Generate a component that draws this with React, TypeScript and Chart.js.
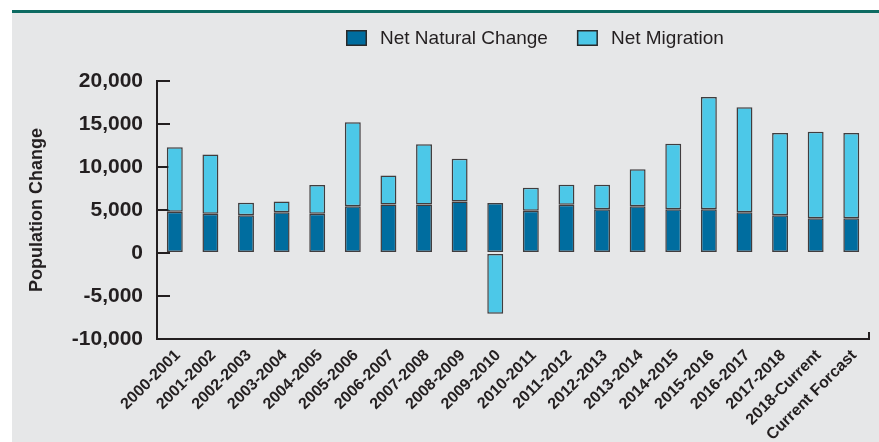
import React, { useEffect, useRef } from "react";
import { Chart, registerables } from "chart.js";

Chart.register(...registerables);

const categories = [
  "2000-2001", "2001-2002", "2002-2003", "2003-2004", "2004-2005",
  "2005-2006", "2006-2007", "2007-2008", "2008-2009", "2009-2010",
  "2010-2011", "2011-2012", "2012-2013", "2013-2014", "2014-2015",
  "2015-2016", "2016-2017", "2017-2018", "2018-Current", "Current Forcast",
];

const netNaturalChange = [
  4800, 4550, 4400, 4750, 4550, 5450, 5650, 5650, 6000, 5800,
  4900, 5600, 5100, 5450, 5100, 5100, 4750, 4400, 4050, 4050,
];

const netMigration = [
  7500, 6900, 1450, 1250, 3350, 9750, 3350, 7000, 4950, -7050,
  2700, 2350, 2850, 4300, 7600, 13050, 12200, 9550, 10050, 9900,
];

const seriesNames = ["Net Natural Change", "Net Migration"];
const seriesColors = ["#006d9f", "#4cc8e8"];

const yMin = -10000;
const yMax = 20000;
const yStep = 5000;
const yTitle = "Population Change";

const INK = "#231f20";
const FONT = "'Liberation Sans', Arial, sans-serif";

const legendPlugin = {
  id: "topLegend",
  afterDraw(chart: any) {
    const ctx = chart.ctx;
    ctx.save();
    ctx.font = `19px ${FONT}`;
    ctx.textBaseline = "middle";
    let x = 346;
    const y = 30;
    chart.data.datasets.forEach((ds: any) => {
      ctx.fillStyle = ds.backgroundColor;
      ctx.fillRect(x, y, 21, 16);
      ctx.strokeStyle = "#2a2a2a";
      ctx.lineWidth = 1.5;
      ctx.strokeRect(x + 0.75, y + 0.75, 19.5, 14.5);
      ctx.fillStyle = INK;
      ctx.fillText(ds.label, x + 34, y + 8.5);
      x += 34 + ctx.measureText(ds.label).width + 29;
    });
    ctx.restore();
  },
};

export default function App() {
  const canvasRef = useRef<HTMLCanvasElement | null>(null);

  useEffect(() => {
    if (!canvasRef.current) return;
    Chart.defaults.font.family = FONT;
    const chart = new Chart(canvasRef.current, {
      type: "bar",
      data: {
        labels: categories,
        datasets: [
          {
            label: seriesNames[0],
            data: netNaturalChange,
            backgroundColor: seriesColors[0],
            borderColor: "rgba(35,31,32,0.85)",
            borderWidth: 1.5,
            borderSkipped: false,
            barPercentage: 0.447,
            categoryPercentage: 1,
          },
          {
            label: seriesNames[1],
            data: netMigration,
            backgroundColor: seriesColors[1],
            borderColor: "rgba(35,31,32,0.85)",
            borderWidth: 1.5,
            borderSkipped: false,
            barPercentage: 0.447,
            categoryPercentage: 1,
          },
        ],
      },
      options: {
        responsive: false,
        devicePixelRatio: 1,
        animation: false,
        layout: { padding: { left: 0, top: 81, right: 6, bottom: 0 } },
        plugins: {
          legend: { display: false },
          tooltip: { enabled: false },
        },
        scales: {
          x: {
            stacked: true,
            ticks: {
              autoSkip: false,
              maxRotation: 45,
              minRotation: 45,
              padding: 14,
              labelOffset: 3,
              color: INK,
              font: { size: 16, weight: "bold" },
            },
            grid: {
              drawOnChartArea: false,
              tickLength: -7,
              lineWidth: 2,
              color: (c: any) => (c.type === "scale" ? INK : "rgba(0,0,0,0)"),
            },
            border: { display: true, color: INK, width: 2 },
            afterFit: (s: any) => {
              s.height = 103;
            },
          },
          y: {
            stacked: true,
            min: yMin,
            max: yMax,
            ticks: {
              stepSize: yStep,
              padding: 27,
              color: INK,
              font: { size: 21, weight: "bold" },
              callback: (v: any) => Number(v).toLocaleString("en-US"),
            },
            grid: {
              drawOnChartArea: false,
              tickLength: -13,
              lineWidth: 2,
              color: INK,
            },
            border: { display: true, color: INK, width: 2 },
            title: {
              display: true,
              text: yTitle,
              color: INK,
              font: { size: 18, weight: "bold" },
              padding: { top: 26, bottom: 0 },
            },
            afterFit: (s: any) => {
              s.width = 157;
            },
          },
        },
      },
      plugins: [legendPlugin],
    });
    return () => chart.destroy();
  }, []);

  return (
    <div
      style={{
        position: "fixed",
        left: 0,
        top: 0,
        width: 879,
        height: 442,
        background: "#ffffff",
        overflow: "hidden",
      }}
    >
      <div
        style={{
          position: "absolute",
          left: 12,
          top: 10,
          right: 0,
          height: 3,
          background: "#0d6b62",
        }}
      />
      <div
        style={{
          position: "absolute",
          left: 12,
          top: 13,
          right: 0,
          bottom: 0,
          background: "#e6e7e8",
        }}
      />
      <canvas
        ref={canvasRef}
        width={879}
        height={442}
        style={{ position: "absolute", left: 0, top: 0, display: "block" }}
      />
    </div>
  );
}
